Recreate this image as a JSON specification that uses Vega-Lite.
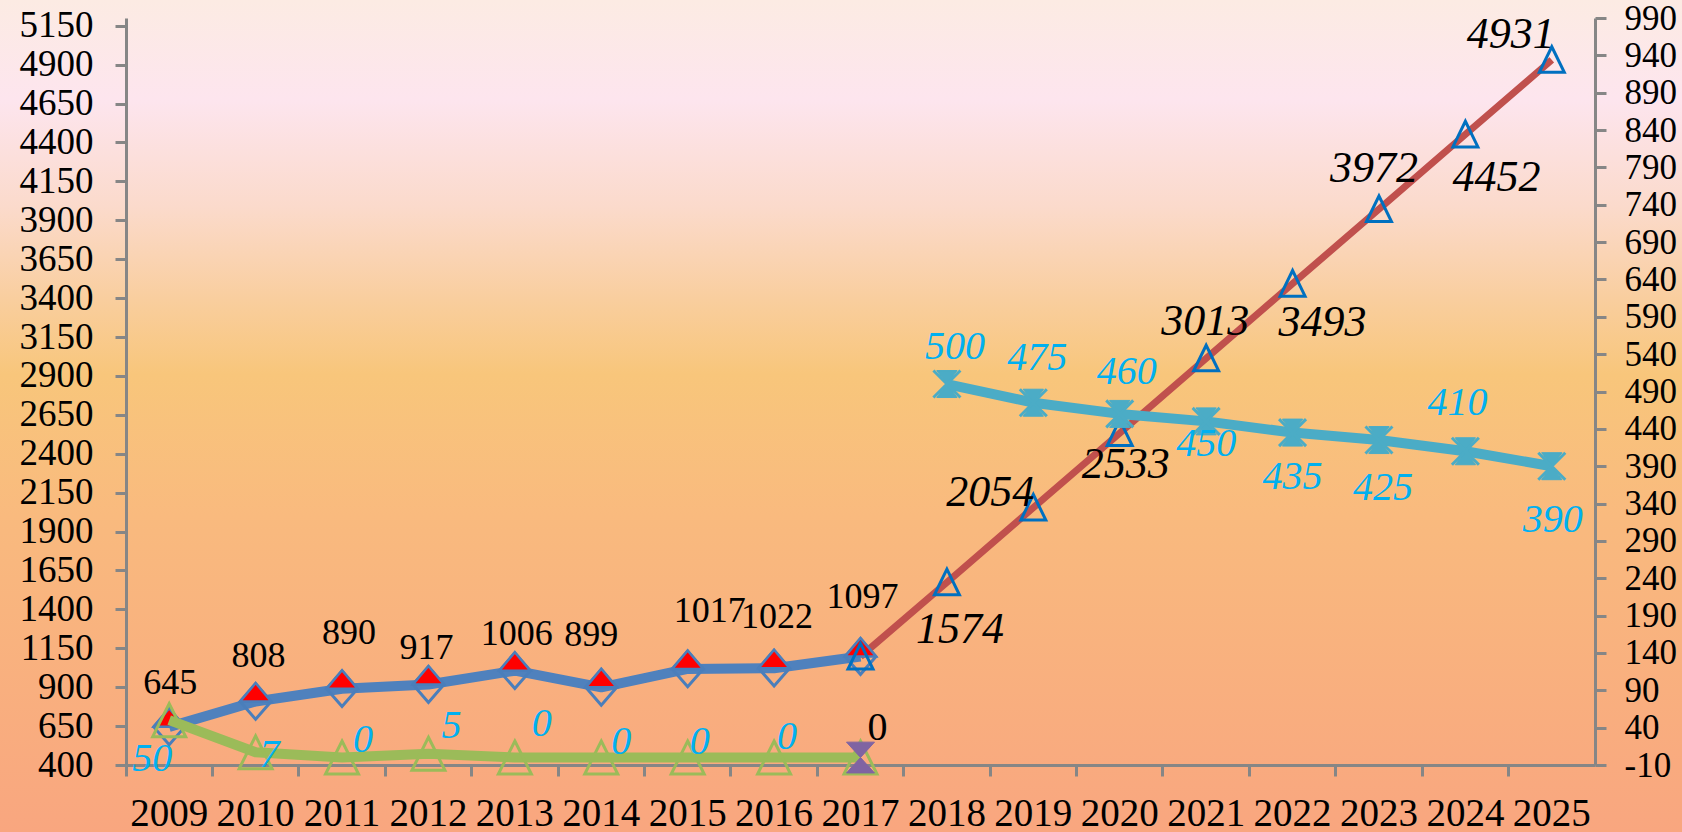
{
"$schema": "https://vega.github.io/schema/vega-lite/v6.json",
"width": 1682, "height": 832, "autosize": {"type": "none"}, "padding": 0,
"background": "#F9BE88",
"view": {"stroke": null, "fill": {"gradient": "linear", "x1": 0, "y1": 0, "x2": 0, "y2": 1, "stops": [
  {"offset": 0, "color": "#FCEBE3"}, {"offset": 0.12, "color": "#FDE5EE"}, {"offset": 0.25, "color": "#FBDACB"},
  {"offset": 0.36, "color": "#F9CE9E"}, {"offset": 0.45, "color": "#F8C67B"}, {"offset": 0.62, "color": "#F9BA7E"}, {"offset": 1, "color": "#F9A67F"}]}},
"datasets": {"d": [
  {"year": 2009, "s": "A", "v": 645}, {"year": 2010, "s": "A", "v": 808}, {"year": 2011, "s": "A", "v": 890},
  {"year": 2012, "s": "A", "v": 917}, {"year": 2013, "s": "A", "v": 1006}, {"year": 2014, "s": "A", "v": 899},
  {"year": 2015, "s": "A", "v": 1017}, {"year": 2016, "s": "A", "v": 1022}, {"year": 2017, "s": "A", "v": 1097},
  {"year": 2017, "s": "B", "v": 1097}, {"year": 2018, "s": "B", "v": 1574}, {"year": 2019, "s": "B", "v": 2054},
  {"year": 2020, "s": "B", "v": 2533}, {"year": 2021, "s": "B", "v": 3013}, {"year": 2022, "s": "B", "v": 3493},
  {"year": 2023, "s": "B", "v": 3972}, {"year": 2024, "s": "B", "v": 4452}, {"year": 2025, "s": "B", "v": 4931},
  {"year": 2009, "s": "C", "v": 50}, {"year": 2010, "s": "C", "v": 7}, {"year": 2011, "s": "C", "v": 0},
  {"year": 2012, "s": "C", "v": 5}, {"year": 2013, "s": "C", "v": 0}, {"year": 2014, "s": "C", "v": 0},
  {"year": 2015, "s": "C", "v": 0}, {"year": 2016, "s": "C", "v": 0}, {"year": 2017, "s": "C", "v": 0},
  {"year": 2017, "s": "E", "v": 0},
  {"year": 2018, "s": "D", "v": 500}, {"year": 2019, "s": "D", "v": 475}, {"year": 2020, "s": "D", "v": 460},
  {"year": 2021, "s": "D", "v": 450}, {"year": 2022, "s": "D", "v": 435}, {"year": 2023, "s": "D", "v": 425},
  {"year": 2024, "s": "D", "v": 410}, {"year": 2025, "s": "D", "v": 390}
]},
"data": {"name": "d"},
"encoding": {"x": {"field": "year", "type": "ordinal",
  "scale": {"type": "band", "range": [126, 1595], "paddingInner": 0, "paddingOuter": 0},
  "axis": {"orient": "bottom", "offset": -67, "title": null, "grid": false, "bandPosition": 0,
    "labelAngle": 0, "domainColor": "#868686", "domainWidth": 3, "tickColor": "#868686", "tickWidth": 3, "tickSize": 11,
    "labelFont": "Liberation Serif", "labelFontSize": 39, "labelColor": "#000000", "labelPadding": 37, "labelBaseline": "middle"}}},
"layer": [
 {"encoding": {"y": {"field": "v", "type": "quantitative",
   "scale": {"domain": [400, 5200], "range": [765, 18], "nice": false, "zero": false},
   "axis": {"orient": "left", "offset": -126, "title": null, "grid": false, "labelExpr": "'' + datum.value",
     "values": [400,650,900,1150,1400,1650,1900,2150,2400,2650,2900,3150,3400,3650,3900,4150,4400,4650,4900,5150],
     "domainColor": "#868686", "domainWidth": 3, "tickColor": "#868686", "tickWidth": 3, "tickSize": 11,
     "labelFont": "Liberation Serif", "labelFontSize": 37, "labelColor": "#000000", "labelPadding": 22, "labelBaseline": "middle"}}},
  "layer": [
   {"transform": [{"filter": "datum.s=='A'"}], "mark": {"type": "line", "color": "#4F81BD", "strokeWidth": 10, "strokeJoin": "round"}, "encoding": {}},
   {"transform": [{"filter": "datum.s=='B'"}], "mark": {"type": "line", "color": "#C0504D", "strokeWidth": 7, "strokeJoin": "round"}, "encoding": {}},
   {"transform": [{"filter": "datum.s=='A'"}], "mark": {"type": "point", "shape": "M0,-1.15L1,0L0,1.15L-1,0Z", "size": 961, "filled": false, "stroke": "#4A7EBB", "strokeWidth": 3, "opacity": 1}},
   {"transform": [{"filter": "datum.s=='A'"}], "mark": {"type": "point", "shape": "M-1,0L1,0L0,-1.2Z", "size": 961, "filled": true, "fill": "#FF0000", "stroke": "#4A7EBB", "strokeWidth": 2.5, "opacity": 1}},
   {"transform": [{"filter": "datum.s=='B'"}], "mark": {"type": "point", "shape": "M0,-1.05L1,1L-1,1Z", "size": 625, "filled": false, "stroke": "#0070C0", "strokeWidth": 3, "opacity": 1}},
   {"transform": [{"filter": "datum.s=='A'&&datum.year==2009"}], "mark": {"type": "text", "font": "Liberation Serif", "fontSize": 36, "color": "#000000", "dx": 1, "dy": -44}, "encoding": {"text": {"field": "v", "format": "d"}}},
   {"transform": [{"filter": "datum.s=='A'&&datum.year==2010"}], "mark": {"type": "text", "font": "Liberation Serif", "fontSize": 36, "color": "#000000", "dx": 3, "dy": -46}, "encoding": {"text": {"field": "v", "format": "d"}}},
   {"transform": [{"filter": "datum.s=='A'&&datum.year==2011"}], "mark": {"type": "text", "font": "Liberation Serif", "fontSize": 36, "color": "#000000", "dx": 7, "dy": -56}, "encoding": {"text": {"field": "v", "format": "d"}}},
   {"transform": [{"filter": "datum.s=='A'&&datum.year==2012"}], "mark": {"type": "text", "font": "Liberation Serif", "fontSize": 36, "color": "#000000", "dx": -2, "dy": -37}, "encoding": {"text": {"field": "v", "format": "d"}}},
   {"transform": [{"filter": "datum.s=='A'&&datum.year==2013"}], "mark": {"type": "text", "font": "Liberation Serif", "fontSize": 36, "color": "#000000", "dx": 2, "dy": -37}, "encoding": {"text": {"field": "v", "format": "d"}}},
   {"transform": [{"filter": "datum.s=='A'&&datum.year==2014"}], "mark": {"type": "text", "font": "Liberation Serif", "fontSize": 36, "color": "#000000", "dx": -10, "dy": -52}, "encoding": {"text": {"field": "v", "format": "d"}}},
   {"transform": [{"filter": "datum.s=='A'&&datum.year==2015"}], "mark": {"type": "text", "font": "Liberation Serif", "fontSize": 36, "color": "#000000", "dx": 22, "dy": -58}, "encoding": {"text": {"field": "v", "format": "d"}}},
   {"transform": [{"filter": "datum.s=='A'&&datum.year==2016"}], "mark": {"type": "text", "font": "Liberation Serif", "fontSize": 36, "color": "#000000", "dx": 3, "dy": -51}, "encoding": {"text": {"field": "v", "format": "d"}}},
   {"transform": [{"filter": "datum.s=='A'&&datum.year==2017"}], "mark": {"type": "text", "font": "Liberation Serif", "fontSize": 36, "color": "#000000", "dx": 2, "dy": -60}, "encoding": {"text": {"field": "v", "format": "d"}}},
   {"transform": [{"filter": "datum.s=='B'&&datum.year==2018"}], "mark": {"type": "text", "font": "Liberation Serif", "fontSize": 44, "fontStyle": "italic", "color": "#000000", "dx": 13, "dy": 48}, "encoding": {"text": {"field": "v", "format": "d"}}},
   {"transform": [{"filter": "datum.s=='B'&&datum.year==2019"}], "mark": {"type": "text", "font": "Liberation Serif", "fontSize": 44, "fontStyle": "italic", "color": "#000000", "dx": -43, "dy": -15}, "encoding": {"text": {"field": "v", "format": "d"}}},
   {"transform": [{"filter": "datum.s=='B'&&datum.year==2020"}], "mark": {"type": "text", "font": "Liberation Serif", "fontSize": 44, "fontStyle": "italic", "color": "#000000", "dx": 6, "dy": 32}, "encoding": {"text": {"field": "v", "format": "d"}}},
   {"transform": [{"filter": "datum.s=='B'&&datum.year==2021"}], "mark": {"type": "text", "font": "Liberation Serif", "fontSize": 44, "fontStyle": "italic", "color": "#000000", "dx": -1, "dy": -36}, "encoding": {"text": {"field": "v", "format": "d"}}},
   {"transform": [{"filter": "datum.s=='B'&&datum.year==2022"}], "mark": {"type": "text", "font": "Liberation Serif", "fontSize": 44, "fontStyle": "italic", "color": "#000000", "dx": 30, "dy": 39}, "encoding": {"text": {"field": "v", "format": "d"}}},
   {"transform": [{"filter": "datum.s=='B'&&datum.year==2023"}], "mark": {"type": "text", "font": "Liberation Serif", "fontSize": 44, "fontStyle": "italic", "color": "#000000", "dx": -5, "dy": -40}, "encoding": {"text": {"field": "v", "format": "d"}}},
   {"transform": [{"filter": "datum.s=='B'&&datum.year==2024"}], "mark": {"type": "text", "font": "Liberation Serif", "fontSize": 44, "fontStyle": "italic", "color": "#000000", "dx": 31, "dy": 44}, "encoding": {"text": {"field": "v", "format": "d"}}},
   {"transform": [{"filter": "datum.s=='B'&&datum.year==2025"}], "mark": {"type": "text", "font": "Liberation Serif", "fontSize": 44, "fontStyle": "italic", "color": "#000000", "dx": -41, "dy": -25}, "encoding": {"text": {"field": "v", "format": "d"}}}
  ]},
 {"encoding": {"y": {"field": "v", "type": "quantitative",
   "scale": {"domain": [-10, 990], "range": [765, 18], "nice": false, "zero": false},
   "axis": {"orient": "right", "offset": -87, "title": null, "grid": false, "labelExpr": "'' + datum.value",
     "values": [-10,40,90,140,190,240,290,340,390,440,490,540,590,640,690,740,790,840,890,940,990],
     "domainColor": "#868686", "domainWidth": 3, "tickColor": "#868686", "tickWidth": 3, "tickSize": 11,
     "labelFont": "Liberation Serif", "labelFontSize": 35, "labelColor": "#000000", "labelPadding": 18, "labelBaseline": "middle"}}},
  "layer": [
   {"transform": [{"filter": "datum.s=='C'"}], "mark": {"type": "line", "color": "#9BBB59", "strokeWidth": 10, "strokeJoin": "round"}, "encoding": {}},
   {"transform": [{"filter": "datum.s=='D'"}], "mark": {"type": "line", "color": "#4BACC6", "strokeWidth": 10, "strokeJoin": "round"}, "encoding": {}},
   {"transform": [{"filter": "datum.s=='C'"}], "mark": {"type": "point", "shape": "M0,-1L1,1L-1,1Z", "size": 1089, "filled": false, "stroke": "#9BBB59", "strokeWidth": 3, "opacity": 1}},
   {"transform": [{"filter": "datum.s=='E'"}], "mark": {"type": "point", "shape": "M-1,-1.1L1,-1.1L0,0ZM-1,1.1L1,1.1L0,0Z", "size": 784, "filled": true, "fill": "#8064A2", "stroke": "#8064A2", "strokeWidth": 1, "opacity": 1}},
   {"transform": [{"filter": "datum.s=='D'"}], "mark": {"type": "point", "shape": "M-0.75,-1L0.75,-1L0,0ZM-0.75,1L0.75,1L0,0Z", "size": 729, "filled": true, "fill": "#4BACC6", "stroke": "#4BACC6", "strokeWidth": 1, "opacity": 1}},
   {"transform": [{"filter": "datum.s=='D'"}], "mark": {"type": "point", "shape": "M-1,-1L1,1M1,-1L-1,1", "size": 729, "filled": false, "stroke": "#4BACC6", "strokeWidth": 3, "opacity": 1}},
   {"transform": [{"filter": "datum.s=='C'&&datum.year==2009"}], "mark": {"type": "text", "font": "Liberation Serif", "fontSize": 40, "fontStyle": "italic", "color": "#00B0F0", "dx": -17, "dy": 39}, "encoding": {"text": {"field": "v", "format": "d"}}},
   {"transform": [{"filter": "datum.s=='C'&&datum.year==2010"}], "mark": {"type": "text", "font": "Liberation Serif", "fontSize": 40, "fontStyle": "italic", "color": "#00B0F0", "dx": 14, "dy": 3}, "encoding": {"text": {"field": "v", "format": "d"}}},
   {"transform": [{"filter": "datum.s=='C'&&datum.year==2011"}], "mark": {"type": "text", "font": "Liberation Serif", "fontSize": 40, "fontStyle": "italic", "color": "#00B0F0", "dx": 21, "dy": -18}, "encoding": {"text": {"field": "v", "format": "d"}}},
   {"transform": [{"filter": "datum.s=='C'&&datum.year==2012"}], "mark": {"type": "text", "font": "Liberation Serif", "fontSize": 40, "fontStyle": "italic", "color": "#00B0F0", "dx": 23, "dy": -28}, "encoding": {"text": {"field": "v", "format": "d"}}},
   {"transform": [{"filter": "datum.s=='C'&&datum.year==2013"}], "mark": {"type": "text", "font": "Liberation Serif", "fontSize": 40, "fontStyle": "italic", "color": "#00B0F0", "dx": 27, "dy": -34}, "encoding": {"text": {"field": "v", "format": "d"}}},
   {"transform": [{"filter": "datum.s=='C'&&datum.year==2014"}], "mark": {"type": "text", "font": "Liberation Serif", "fontSize": 40, "fontStyle": "italic", "color": "#00B0F0", "dx": 20, "dy": -16}, "encoding": {"text": {"field": "v", "format": "d"}}},
   {"transform": [{"filter": "datum.s=='C'&&datum.year==2015"}], "mark": {"type": "text", "font": "Liberation Serif", "fontSize": 40, "fontStyle": "italic", "color": "#00B0F0", "dx": 12, "dy": -16}, "encoding": {"text": {"field": "v", "format": "d"}}},
   {"transform": [{"filter": "datum.s=='C'&&datum.year==2016"}], "mark": {"type": "text", "font": "Liberation Serif", "fontSize": 40, "fontStyle": "italic", "color": "#00B0F0", "dx": 13, "dy": -21}, "encoding": {"text": {"field": "v", "format": "d"}}},
   {"transform": [{"filter": "datum.s=='E'"}], "mark": {"type": "text", "font": "Liberation Serif", "fontSize": 40, "color": "#000000", "dx": 17, "dy": -30}, "encoding": {"text": {"field": "v", "format": "d"}}},
   {"transform": [{"filter": "datum.s=='D'&&datum.year==2018"}], "mark": {"type": "text", "font": "Liberation Serif", "fontSize": 40, "fontStyle": "italic", "color": "#00B0F0", "dx": 8, "dy": -37}, "encoding": {"text": {"field": "v", "format": "d"}}},
   {"transform": [{"filter": "datum.s=='D'&&datum.year==2019"}], "mark": {"type": "text", "font": "Liberation Serif", "fontSize": 40, "fontStyle": "italic", "color": "#00B0F0", "dx": 4, "dy": -45}, "encoding": {"text": {"field": "v", "format": "d"}}},
   {"transform": [{"filter": "datum.s=='D'&&datum.year==2020"}], "mark": {"type": "text", "font": "Liberation Serif", "fontSize": 40, "fontStyle": "italic", "color": "#00B0F0", "dx": 7, "dy": -42}, "encoding": {"text": {"field": "v", "format": "d"}}},
   {"transform": [{"filter": "datum.s=='D'&&datum.year==2021"}], "mark": {"type": "text", "font": "Liberation Serif", "fontSize": 40, "fontStyle": "italic", "color": "#00B0F0", "dx": 0, "dy": 23}, "encoding": {"text": {"field": "v", "format": "d"}}},
   {"transform": [{"filter": "datum.s=='D'&&datum.year==2022"}], "mark": {"type": "text", "font": "Liberation Serif", "fontSize": 40, "fontStyle": "italic", "color": "#00B0F0", "dx": 0, "dy": 44}, "encoding": {"text": {"field": "v", "format": "d"}}},
   {"transform": [{"filter": "datum.s=='D'&&datum.year==2023"}], "mark": {"type": "text", "font": "Liberation Serif", "fontSize": 40, "fontStyle": "italic", "color": "#00B0F0", "dx": 4, "dy": 48}, "encoding": {"text": {"field": "v", "format": "d"}}},
   {"transform": [{"filter": "datum.s=='D'&&datum.year==2024"}], "mark": {"type": "text", "font": "Liberation Serif", "fontSize": 40, "fontStyle": "italic", "color": "#00B0F0", "dx": -8, "dy": -48}, "encoding": {"text": {"field": "v", "format": "d"}}},
   {"transform": [{"filter": "datum.s=='D'&&datum.year==2025"}], "mark": {"type": "text", "font": "Liberation Serif", "fontSize": 40, "fontStyle": "italic", "color": "#00B0F0", "dx": 1, "dy": 54}, "encoding": {"text": {"field": "v", "format": "d"}}}
  ]}
],
"resolve": {"scale": {"y": "independent"}},
"config": {"view": {"stroke": null}, "text": {"baseline": "middle", "align": "center"}}
}
